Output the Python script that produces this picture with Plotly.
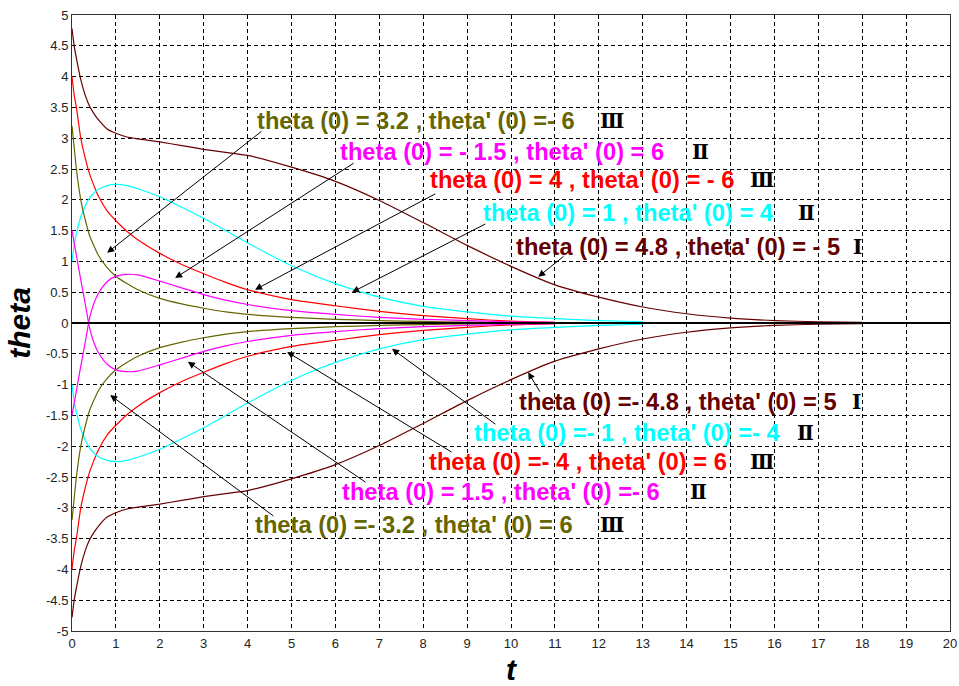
import plotly.graph_objects as go

# ---- data ----
t = [0, 0.05, 0.1, 0.2, 0.3, 0.4, 0.5, 0.6, 0.8, 1.0, 1.25, 1.5, 2, 2.5, 3, 3.5, 4,
     5, 6, 7, 8, 9, 10, 11, 12, 13, 14, 15, 16, 17, 18]

theta_maroon_pos = [4.78, 4.5, 4.3, 3.95, 3.7, 3.52, 3.4, 3.3, 3.15, 3.08, 3.02, 2.99, 2.94, 2.88,
                    2.82, 2.77, 2.72, 2.53, 2.3, 1.99, 1.63, 1.26, 0.92, 0.62, 0.42, 0.26, 0.15,
                    0.08, 0.04, 0.02, 0.01]
theta_maroon_neg = [-4.78, -4.5, -4.3, -3.95, -3.7, -3.52, -3.4, -3.3, -3.15, -3.08, -3.02, -2.99,
                    -2.94, -2.88, -2.82, -2.77, -2.72, -2.53, -2.3, -1.99, -1.63, -1.26, -0.92,
                    -0.62, -0.42, -0.26, -0.15, -0.08, -0.04, -0.02, -0.01]
theta_red_pos = [4.0, 3.7, 3.5, 3.0, 2.68, 2.42, 2.23, 2.06, 1.82, 1.66, 1.49, 1.35, 1.13, 0.95,
                 0.8, 0.66, 0.54, 0.38, 0.28, 0.19, 0.12, 0.07, 0.03, 0.01]
theta_red_neg = [-4.0, -3.7, -3.5, -3.0, -2.68, -2.42, -2.23, -2.06, -1.82, -1.66, -1.49, -1.35,
                 -1.13, -0.95, -0.8, -0.66, -0.54, -0.38, -0.28, -0.19, -0.12, -0.07, -0.03, -0.01]
theta_cyan_pos = [1.0, 1.27, 1.45, 1.72, 1.9, 2.03, 2.11, 2.17, 2.23, 2.25, 2.23, 2.18, 2.05, 1.88,
                  1.7, 1.5, 1.3, 0.93, 0.64, 0.42, 0.27, 0.18, 0.11, 0.07, 0.04, 0.02]
theta_cyan_neg = [-1.0, -1.27, -1.45, -1.72, -1.9, -2.03, -2.11, -2.17, -2.23, -2.25, -2.23, -2.18,
                  -2.05, -1.88, -1.7, -1.5, -1.3, -0.93, -0.64, -0.42, -0.27, -0.18, -0.11, -0.07,
                  -0.04, -0.02]
theta_olive_pos = [3.2, 2.85, 2.5, 2.0, 1.68, 1.42, 1.25, 1.1, 0.9, 0.76, 0.64, 0.54, 0.4, 0.31,
                   0.24, 0.18, 0.14, 0.09, 0.06, 0.04, 0.025, 0.015, 0.01]
theta_olive_neg = [-3.2, -2.85, -2.5, -2.0, -1.68, -1.42, -1.25, -1.1, -0.9, -0.76, -0.64, -0.54,
                   -0.4, -0.31, -0.24, -0.18, -0.14, -0.09, -0.06, -0.04, -0.025, -0.015, -0.01]
theta_magenta_a = [-1.5, -1.3, -1.1, -0.7, -0.32, 0.08, 0.32, 0.48, 0.67, 0.76, 0.79, 0.78, 0.68,
                   0.57, 0.46, 0.37, 0.3, 0.2, 0.14, 0.09, 0.06, 0.04, 0.02, 0.01]
theta_magenta_b = [1.5, 1.3, 1.1, 0.7, 0.32, -0.08, -0.32, -0.48, -0.67, -0.76, -0.79, -0.78,
                   -0.68, -0.57, -0.46, -0.37, -0.3, -0.2, -0.14, -0.09, -0.06, -0.04, -0.02, -0.01]

x_tick_vals = list(range(0, 21))
x_tick_text = [str(v) for v in x_tick_vals]
y_tick_vals = [5, 4.5, 4, 3.5, 3, 2.5, 2, 1.5, 1, 0.5, 0, -0.5, -1, -1.5, -2, -2.5, -3, -3.5,
               -4, -4.5, -5]
y_tick_text = ["5", "4.5", "4", "3.5", "3", "2.5", "2", "1.5", "1", "0.5", "0", "-0.5", "-1",
               "-1.5", "-2", "-2.5", "-3", "-3.5", "-4", "-4.5", "-5"]

MAROON, RED, CYAN, OLIVE, MAGENTA = "#660000", "#FF0000", "#00FFFF", "#666600", "#FF00FF"

series = [
    (theta_maroon_pos, MAROON), (theta_maroon_neg, MAROON),
    (theta_red_pos, RED), (theta_red_neg, RED),
    (theta_cyan_pos, CYAN), (theta_cyan_neg, CYAN),
    (theta_olive_pos, OLIVE), (theta_olive_neg, OLIVE),
    (theta_magenta_a, MAGENTA), (theta_magenta_b, MAGENTA),
]

fig = go.Figure()
for vals, col in series:
    fig.add_trace(go.Scatter(x=t[:len(vals)], y=vals, mode="lines",
                             line=dict(color=col, width=1.2, shape="spline", smoothing=0.6),
                             showlegend=False, hoverinfo="skip"))

# label specs: text, color, left x, y, numeral, numeral x, arrow tip, arrow tail
labels = [
    ("theta (0) = 3.2 , theta' (0) =- 6", OLIVE, 4.17, 3.28, "Ⅲ", 12.30, (0.80, 1.14), (4.35, 3.13)),
    ("theta (0) = - 1.5 , theta' (0) = 6", MAGENTA, 6.06, 2.78, "Ⅱ", 14.31, (2.35, 0.73), (6.45, 2.61)),
    ("theta (0) = 4 , theta' (0) = - 6", RED, 8.11, 2.32, "Ⅲ", 15.72, (4.17, 0.54), (8.31, 2.11)),
    ("theta (0) = 1 , theta' (0) = 4", CYAN, 9.32, 1.79, "Ⅱ", 16.74, (6.38, 0.50), (9.45, 1.62)),
    ("theta (0) = 4.8 , theta' (0) = - 5", MAROON, 10.07, 1.23, "Ⅰ", 17.90, (10.62, 0.75), (11.23, 1.10)),
    ("theta (0) =- 4.8 , theta' (0) = 5", MAROON, 10.14, -1.28, "Ⅰ", 17.88, (10.39, -0.80), (10.68, -1.14)),
    ("theta (0) =- 1 , theta' (0) =- 4", CYAN, 9.11, -1.79, "Ⅱ", 16.70, (7.29, -0.42), (9.68, -1.66)),
    ("theta (0) =- 4 , theta' (0) = 6", RED, 8.09, -2.26, "Ⅲ", 15.72, (4.90, -0.47), (8.68, -2.11)),
    ("theta (0) = 1.5 , theta' (0) =- 6", MAGENTA, 6.10, -2.74, "Ⅱ", 14.26, (2.64, -0.63), (6.72, -2.60)),
    ("theta (0) =- 3.2 , theta' (0) = 6", OLIVE, 4.12, -3.28, "Ⅲ", 12.30, (0.87, -1.17), (4.62, -3.15)),
]

annotations = []
for text, col, lx, ly, num, nx, tip, tail in labels:
    annotations.append(dict(x=tip[0], y=tip[1], ax=tail[0], ay=tail[1], xref="x", yref="y",
                            axref="x", ayref="y", text="", showarrow=True, arrowhead=2,
                            arrowsize=1.4, arrowwidth=1, arrowcolor="black", standoff=0))
    annotations.append(dict(x=lx, y=ly, xref="x", yref="y", text="<b>" + text + "</b>",
                            showarrow=False, xanchor="left", yanchor="middle",
                            font=dict(family="Liberation Sans, Arial", size=23.7, color=col)))
    annotations.append(dict(x=nx, y=ly, xref="x", yref="y", text="<b>" + num + "</b>",
                            showarrow=False, xanchor="center", yanchor="middle",
                            font=dict(family="DejaVu Serif, Noto Sans CJK SC", size=20,
                                      color="black")))

fig.update_layout(
    width=959, height=686,
    margin=dict(l=72, r=9, t=15, b=55),
    paper_bgcolor="white", plot_bgcolor="white",
    annotations=annotations,
    shapes=[dict(type="line", xref="paper", x0=0, x1=1, yref="y", y0=0, y1=0,
                 line=dict(color="black", width=2.2), layer="above")],
)
fig.update_xaxes(range=[0, 20], tickvals=x_tick_vals, ticktext=x_tick_text, automargin=False,
                 showgrid=True, gridcolor="black", griddash="4px,3px", gridwidth=1,
                 zeroline=False, showline=True, linecolor="#333333", linewidth=1, mirror=True,
                 ticks="", tickfont=dict(family="Liberation Sans, Arial", size=13, color="#222222"),
                 title=dict(text="<b><i>t</i></b>", standoff=9,
                            font=dict(family="Liberation Sans, Arial", size=30, color="black")))
fig.update_yaxes(range=[-5, 5], tickvals=y_tick_vals, ticktext=y_tick_text, automargin=False,
                 showgrid=True, gridcolor="black", griddash="4px,3px", gridwidth=1,
                 zeroline=False, showline=True, linecolor="#333333", linewidth=1, mirror=True,
                 ticks="", tickfont=dict(family="Liberation Sans, Arial", size=13, color="#222222"),
                 title=dict(text="<b><i>theta</i></b>", standoff=6,
                            font=dict(family="Liberation Sans, Arial", size=30, color="black")))

fig.write_html("out.html", config={"displayModeBar": False},
               post_script="document.body.style.margin='0';document.body.style.padding='0';")
